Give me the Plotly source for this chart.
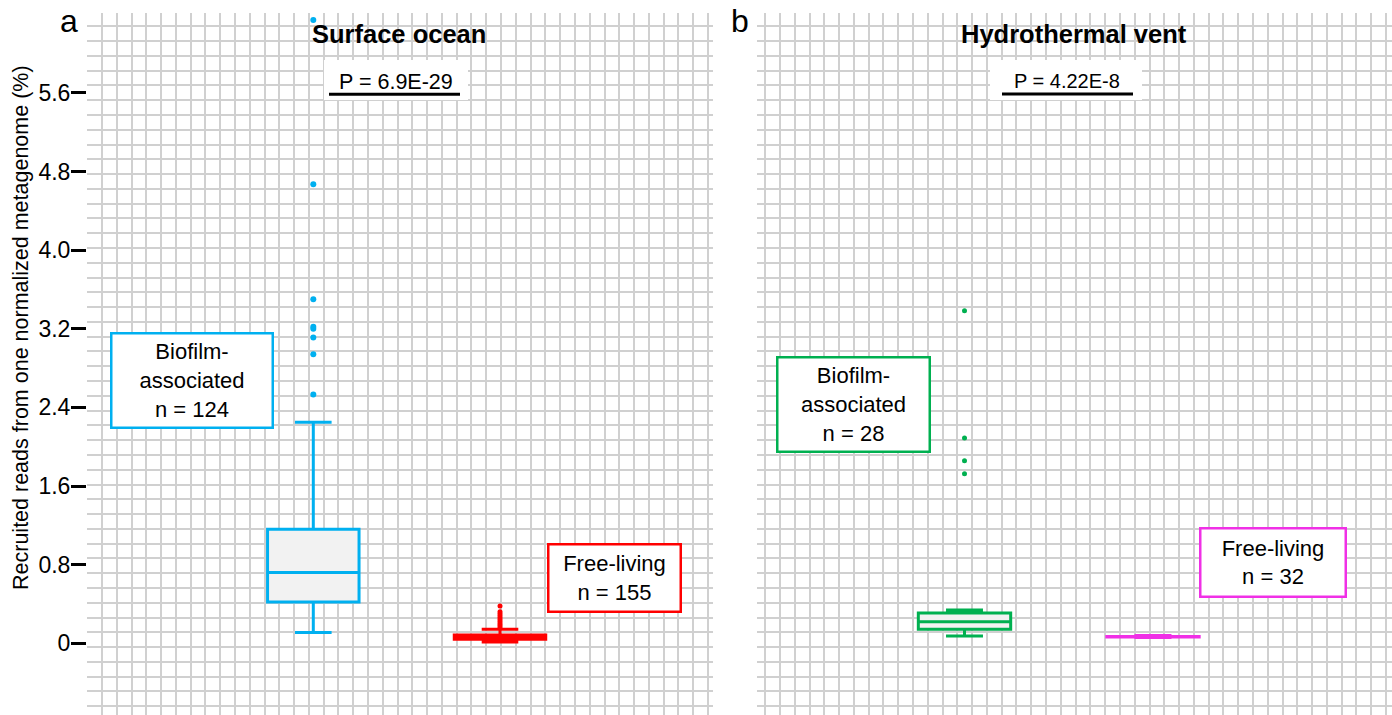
import plotly.graph_objects as go

W, H = 1392, 715

# ---------------- data ----------------
categories = ["Biofilm-associated", "Free-living"]
positions = [1, 2]

# Surface ocean (panel a)
surf_q1 = [0.42, 0.042]
surf_median = [0.72, 0.062]
surf_q3 = [1.16, 0.084]
surf_lower = [0.11, 0.012]
surf_upper = [2.25, 0.142]
surf_bio_outliers = [2.53, 2.94, 3.11, 3.20, 3.22, 3.50, 4.67, 6.34]
surf_free_outliers = [0.16, 0.18, 0.20, 0.22, 0.24, 0.26, 0.28, 0.30, 0.32, 0.38]

# Hydrothermal vent (panel b)
vent_q1 = [0.142, 0.064]
vent_median = [0.22, 0.067]
vent_q3 = [0.308, 0.070]
vent_lower = [0.074, 0.058]
vent_upper = [0.339, 0.080]
vent_bio_outliers = [1.725, 1.858, 2.089, 3.384]

ytick_vals = [0, 0.8, 1.6, 2.4, 3.2, 4.0, 4.8, 5.6]
ytick_text = ["0", "0.8", "1.6", "2.4", "3.2", "4.0", "4.8", "5.6"]

panel_titles = ["Surface ocean", "Hydrothermal vent"]
p_values = ["P = 6.9E-29", "P = 4.22E-8"]
n_surface = [124, 155]
n_vent = [28, 32]

colors_surface = ["#00b0f0", "#ff0000"]
colors_vent = ["#00b050", "#f030e6"]

# ---------------- layout helpers ----------------
FONT = "Liberation Sans, Arial, sans-serif"
GRID = "#d0d0d0"

def px(xp):
    return xp / W

def py(yp):
    return 1 - yp / H

# axis geometry
left_dom = [87 / W, 713 / W]
right_dom = [757 / W, 1.0]
y_dom = [0, 1 - 12.5 / H]

# y scale: value 0 at pixel 643.3, 98.3 px per unit
y0_px, y_ppu = 643.3, 98.3
y_range = [(y0_px - 715) / y_ppu, (y0_px - 12.5) / y_ppu]

# left x: position 1 at 313.3 px, 186.7 px per unit
lx_c, lx_ppu = 313.3, 186.7
lx_range = [1 + (87 - lx_c) / lx_ppu, 1 + (713 - lx_c) / lx_ppu]
# right x: position 1 at 964.5 px, 188.5 px per unit
rx_c, rx_ppu = 964.5, 188.5
rx_range = [1 + (757 - rx_c) / rx_ppu, 1 + (1392 - rx_c) / rx_ppu]

GSTEP = 14.78

fig = go.Figure()

def add_panel(xa, ya, q1, med, q3, lo, up, cols):
    for i in range(2):
        fig.add_trace(go.Box(
            x=[positions[i]], q1=[q1[i]], median=[med[i]], q3=[q3[i]],
            lowerfence=[lo[i]], upperfence=[up[i]],
            orientation="v", width=0.49, whiskerwidth=0.4,
            line=dict(color=cols[i], width=3), fillcolor="#f2f2f2",
            boxpoints=False, name=categories[i], showlegend=False,
            hoverinfo="skip", xaxis=xa, yaxis=ya))

add_panel("x", "y", surf_q1, surf_median, surf_q3, surf_lower, surf_upper, colors_surface)
add_panel("x2", "y2", vent_q1, vent_median, vent_q3, vent_lower, vent_upper, colors_vent)

fig.add_trace(go.Scatter(x=[positions[0]] * len(surf_bio_outliers), y=surf_bio_outliers,
                         mode="markers", marker=dict(color=colors_surface[0], size=6),
                         showlegend=False, xaxis="x", yaxis="y"))
fig.add_trace(go.Scatter(x=[positions[1]] * len(surf_free_outliers), y=surf_free_outliers,
                         mode="markers", marker=dict(color=colors_surface[1], size=5),
                         showlegend=False, xaxis="x", yaxis="y"))
fig.add_trace(go.Scatter(x=[positions[0]] * len(vent_bio_outliers), y=vent_bio_outliers,
                         mode="markers", marker=dict(color=colors_vent[0], size=5),
                         showlegend=False, xaxis="x2", yaxis="y2"))

ygrid = dict(tick0=(y0_px - 632.3) / y_ppu, dtick=GSTEP / y_ppu, showgrid=True,
             gridcolor=GRID, gridwidth=2, ticks="")

common_x = dict(type="linear", showgrid=False, zeroline=False, showline=False,
                showticklabels=False, ticks="", fixedrange=True)

fig.update_layout(
    width=W, height=H,
    margin=dict(l=0, r=0, t=0, b=0),
    paper_bgcolor="white", plot_bgcolor="white",
    font=dict(family=FONT, color="black"),
    showlegend=False,
    xaxis=dict(domain=left_dom, range=lx_range, anchor="y",
               minor=dict(tick0=1 + (87.2 - lx_c) / lx_ppu, dtick=GSTEP / lx_ppu,
                          showgrid=True, gridcolor=GRID, gridwidth=2, ticks=""),
               **common_x),
    xaxis2=dict(domain=right_dom, range=rx_range, anchor="y2",
                minor=dict(tick0=1 + (780 - rx_c) / rx_ppu, dtick=GSTEP / rx_ppu,
                           showgrid=True, gridcolor=GRID, gridwidth=2, ticks=""),
                **common_x),
    yaxis=dict(domain=y_dom, range=y_range, anchor="x", showgrid=False, zeroline=False,
               showline=False, tickmode="array", tickvals=ytick_vals, ticktext=ytick_text,
               ticks="outside", ticklen=15, tickwidth=3, tickcolor="black",
               ticklabelstandoff=-4,
               tickfont=dict(size=23, family=FONT, color="black"),
               minor=ygrid, automargin=False, fixedrange=True),
    yaxis2=dict(domain=y_dom, range=y_range, anchor="x2", showgrid=False, zeroline=False,
                showline=False, showticklabels=False, ticks="", minor=ygrid,
                automargin=False, fixedrange=True),
)

shapes = []
# white backgrounds behind P values, and underlines
for (x0, x1, lx0, lx1, ly) in [(324, 468, 329, 460, 94.3), (990, 1142, 1002, 1133, 94.0)]:
    shapes.append(dict(type="rect", xref="paper", yref="paper", x0=px(x0), x1=px(x1),
                       y0=py(100), y1=py(60), fillcolor="white", line=dict(width=0),
                       layer="above"))
    shapes.append(dict(type="line", xref="paper", yref="paper", x0=px(lx0), x1=px(lx1),
                       y0=py(ly), y1=py(ly), line=dict(color="black", width=3),
                       layer="above"))
fig.update_layout(shapes=shapes)

ann = []
# panel letters
ann.append(dict(text="a", x=px(69), y=py(20.6), xref="paper", yref="paper",
                showarrow=False, xanchor="center", yanchor="middle", font=dict(size=32)))
ann.append(dict(text="b", x=px(740), y=py(20.6), xref="paper", yref="paper",
                showarrow=False, xanchor="center", yanchor="middle", font=dict(size=32)))
# titles
ann.append(dict(text="<b>%s</b>" % panel_titles[0], x=px(399), y=py(33.5), xref="paper",
                yref="paper", showarrow=False, xanchor="center", yanchor="middle",
                font=dict(size=25.5)))
ann.append(dict(text="<b>%s</b>" % panel_titles[1], x=px(1073.5), y=py(33.5), xref="paper",
                yref="paper", showarrow=False, xanchor="center", yanchor="middle",
                font=dict(size=25.5)))
# P values
ann.append(dict(text=p_values[0], x=px(396), y=py(81.8), xref="paper", yref="paper",
                showarrow=False, xanchor="center", yanchor="middle", font=dict(size=21.5)))
ann.append(dict(text=p_values[1], x=px(1067), y=py(81), xref="paper", yref="paper",
                showarrow=False, xanchor="center", yanchor="middle", font=dict(size=20)))
# y axis title
ann.append(dict(text="Recruited reads from one normalized metagenome (%)", x=px(21),
                y=py(328), xref="paper", yref="paper", showarrow=False, textangle=-90,
                xanchor="center", yanchor="middle", font=dict(size=21.5)))

# group label boxes
def label_box(text, cx, cy, w, h, color):
    return dict(text=text, x=px(cx), y=py(cy), xref="paper", yref="paper", showarrow=False,
                xanchor="center", yanchor="middle", width=w, height=h, align="center",
                valign="middle", bgcolor="white", bordercolor=color, borderwidth=2.5,
                borderpad=0, font=dict(size=22))

ann.append(label_box("Biofilm-<br>associated<br>n = %d" % n_surface[0], 192.5, 380, 159, 92,
                     colors_surface[0]))
ann.append(label_box("Free-living<br>n = %d" % n_surface[1], 614, 577.5, 130, 65,
                     colors_surface[1]))
ann.append(label_box("Biofilm-<br>associated<br>n = %d" % n_vent[0], 853, 404, 150, 92,
                     colors_vent[0]))
ann.append(label_box("Free-living<br>n = %d" % n_vent[1], 1272.5, 562, 143, 66,
                     colors_vent[1]))
fig.update_layout(annotations=ann)

fig.write_html("out.html", config={"displayModeBar": False},
               post_script="document.body.style.margin='0px';")
